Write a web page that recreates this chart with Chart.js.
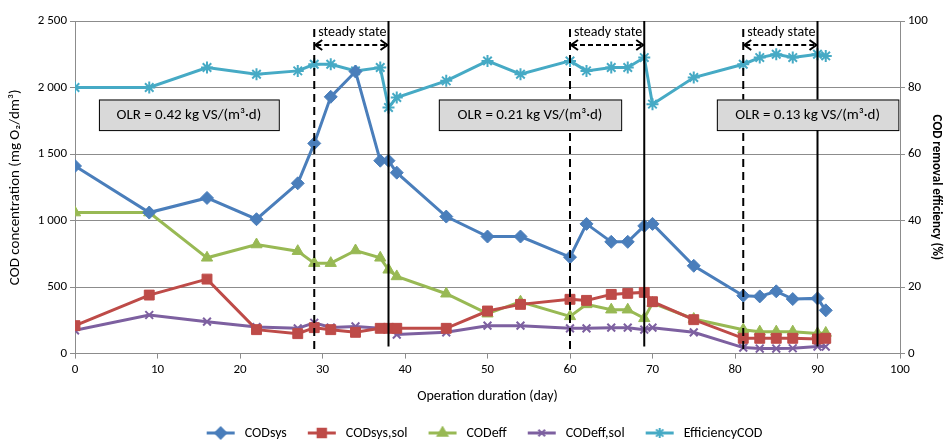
<!DOCTYPE html>
<html>
<head>
<meta charset="utf-8">
<script src="https://cdn.jsdelivr.net/npm/chart.js@4.4.1/dist/chart.umd.min.js"></script>
<style>
  body { margin: 0; background: #fff; }
  #wrap { width: 946px; height: 440px; }
</style>
</head>
<body>
<div id="wrap"><canvas id="chartCOD"></canvas></div>
<script>
// datos
const days = [0, 9, 16, 22, 27, 29, 31, 34, 37, 38, 39, 45, 50, 54, 60, 62, 65, 67, 69, 70, 75, 81, 83, 85, 87, 90, 91];
const codSys = [1410, 1060, 1170, 1010, 1280, 1580, 1930, 2120, 1450, 1450, 1360, 1030, 880, 880, 725, 975, 840, 840, 960, 975, 660, 435, 430, 468, 410, 415, 325];
const codSysSol = [210, 440, 560, 180, 150, 195, 180, 160, 190, 190, 190, 190, 320, 370, 408, 400, 445, 453, 460, 390, 255, 115, 115, 115, 115, 110, 115];
const codEff = [1060, 1060, 720, 820, 770, 680, 680, 775, 720, 630, 580, 450, 300, 390, 280, 370, 330, 330, 265, 380, 260, 180, 165, 165, 165, 152, 155];
const codEffSol = [175, 290, 240, 200, 190, 232, 196, 204, 190, 190, 143, 160, 210, 210, 190, 190, 195, 195, 180, 195, 160, 45, 38, 38, 40, 53, 53];
const efficiency = [80, 80, 86, 84, 85, 87, 87, 85, 86, 74, 77, 82, 88, 84, 88, 85, 86, 86, 89, 75, 83, 87, 89, 90, 89, 90, 89.5];

const seriesNames = ['CODsys', 'CODsys,sol', 'CODeff', 'CODeff,sol', 'EfficiencyCOD'];
const steadyStates = [[29, 38], [60, 69], [81, 90]];
const olrLabels = ['OLR = 0.42 kg VS/(m³·d)', 'OLR = 0.21 kg VS/(m³·d)', 'OLR = 0.13 kg VS/(m³·d)'];

const FONT = 'Carlito, Lato, "Liberation Sans", sans-serif';
const colors = ['#4a7ebb', '#be4b48', '#98b954', '#7d60a0', '#46aac5'];
const markers = [
  { pointStyle: 'rectRot', radius: 6.5 },
  { pointStyle: 'rect', radius: 7 },
  { pointStyle: 'triangle', radius: 6.5 },
  { pointStyle: 'crossRot', radius: 5.5 },
  { pointStyle: 'star', radius: 6 }
];

const toXY = vals => days.map((d, i) => ({ x: d, y: vals[i] }));

// icono de leyenda: linea + marcador (margen a la izquierda para separar items)
function legendIcon(i) {
  const c = document.createElement('canvas');
  c.width = 50; c.height = 14;
  const ctx = c.getContext('2d');
  ctx.strokeStyle = colors[i];
  ctx.fillStyle = colors[i];
  ctx.lineWidth = 3;
  ctx.beginPath(); ctx.moveTo(19, 7); ctx.lineTo(47, 7); ctx.stroke();
  ctx.lineWidth = 2;
  Chart.helpers.drawPoint(ctx, { pointStyle: markers[i].pointStyle, radius: markers[i].radius * 0.85, borderWidth: 2, rotation: 0 }, 33, 7);
  return c;
}

function makeDataset(i, vals, axis) {
  return {
    label: seriesNames[i],
    data: toXY(vals),
    yAxisID: axis,
    borderColor: colors[i],
    backgroundColor: colors[i],
    borderWidth: 3,
    pointStyle: markers[i].pointStyle,
    pointRadius: markers[i].radius,
    pointBorderWidth: (i >= 3) ? 2 : 1,
    pointBorderColor: colors[i],
    pointBackgroundColor: colors[i],
    tension: 0
  };
}

// lineas de estado estacionario y cajas OLR
const annotations = {
  id: 'annotations',
  afterDatasetsDraw(chart) {
    const ctx = chart.ctx;
    const x = chart.scales.x, y = chart.scales.y;
    const top = chart.chartArea.top, bottom = chart.chartArea.bottom;
    ctx.save();
    steadyStates.forEach(([a, b]) => {
      const xa = x.getPixelForValue(a), xb = x.getPixelForValue(b);
      // discontinua
      ctx.strokeStyle = '#000';
      ctx.lineWidth = 2;
      ctx.setLineDash([8, 5]);
      ctx.beginPath(); ctx.moveTo(xa, top + 8); ctx.lineTo(xa, bottom - 2); ctx.stroke();
      // continua
      ctx.setLineDash([]);
      ctx.beginPath(); ctx.moveTo(xb, top); ctx.lineTo(xb, bottom - 7); ctx.stroke();
      // flecha doble
      const ya = top + 24;
      ctx.setLineDash([5, 3]);
      ctx.beginPath(); ctx.moveTo(xa + 2, ya); ctx.lineTo(xb - 2, ya); ctx.stroke();
      ctx.setLineDash([]);
      ctx.beginPath();
      ctx.moveTo(xa + 8, ya - 5); ctx.lineTo(xa + 1, ya); ctx.lineTo(xa + 8, ya + 5);
      ctx.moveTo(xb - 8, ya - 5); ctx.lineTo(xb - 1, ya); ctx.lineTo(xb - 8, ya + 5);
      ctx.stroke();
      ctx.fillStyle = '#000';
      ctx.font = '14px ' + FONT;
      ctx.textAlign = 'center';
      ctx.textBaseline = 'middle';
      ctx.fillText('steady state', (xa + xb) / 2 + 1, top + 11);
    });
    const boxes = [[2.9, 24.7], [44.1, 66.2], [77.8, 99.8]];
    boxes.forEach(([a, b], i) => {
      const x0 = x.getPixelForValue(a), x1 = x.getPixelForValue(b);
      const y0 = y.getPixelForValue(1910), y1 = y.getPixelForValue(1680);
      ctx.fillStyle = '#d9d9d9';
      ctx.fillRect(x0, y0, x1 - x0, y1 - y0);
      ctx.strokeStyle = '#000';
      ctx.lineWidth = 1;
      ctx.strokeRect(x0 + 0.5, y0 + 0.5, x1 - x0, y1 - y0);
      ctx.fillStyle = '#000';
      ctx.font = '15px ' + FONT;
      ctx.textAlign = 'center';
      ctx.textBaseline = 'middle';
      ctx.fillText(olrLabels[i], (x0 + x1) / 2, (y0 + y1) / 2);
    });
    ctx.restore();
  }
};

const chartCOD = document.getElementById('chartCOD');

new Chart(chartCOD, {
  type: 'line',
  data: {
    datasets: [
      makeDataset(0, codSys, 'y'),
      makeDataset(1, codSysSol, 'y'),
      makeDataset(2, codEff, 'y'),
      makeDataset(3, codEffSol, 'y'),
      makeDataset(4, efficiency, 'y1')
    ]
  },
  options: {
    responsive: true,
    maintainAspectRatio: false,
    animation: false,
    layout: { padding: { top: 21, left: 4, right: 0, bottom: -10 } },
    font: { family: FONT },
    plugins: {
      tooltip: { enabled: false },
      legend: {
        position: 'bottom',
        labels: {
          usePointStyle: true,
          pointStyleWidth: 50,
          padding: 2,
          color: '#000',
          font: { size: 14, family: FONT },
          generateLabels(chart) {
            return chart.data.datasets.map((ds, i) => ({
              text: ds.label,
              pointStyle: legendIcon(i),
              fillStyle: colors[i],
              strokeStyle: colors[i],
              lineWidth: 0,
              hidden: false,
              datasetIndex: i
            }));
          }
        }
      }
    },
    scales: {
      x: {
        type: 'linear',
        min: 0,
        max: 100,
        ticks: { stepSize: 10, color: '#000', font: { size: 13, family: FONT } },
        grid: { drawOnChartArea: false, color: '#8c8c8c', tickLength: 5 },
        border: { color: '#8c8c8c' },
        title: { display: true, text: 'Operation duration (day)', color: '#000', font: { size: 14, family: FONT }, padding: { top: 8, bottom: 19 } }
      },
      y: {
        position: 'left',
        min: 0,
        max: 2500,
        ticks: {
          stepSize: 500,
          color: '#000',
          font: { size: 13, family: FONT },
          callback: v => String(v).replace(/\B(?=(\d{3})+(?!\d))/g, ' ')
        },
        grid: { color: '#8c8c8c', tickLength: 5 },
        border: { color: '#8c8c8c' },
        title: { display: true, text: 'COD concentration (mg O₂/dm³)', color: '#000', font: { size: 15, family: FONT }, padding: 2 },
        afterFit(scale) { scale.width = 71; }
      },
      y1: {
        position: 'right',
        min: 0,
        max: 100,
        ticks: { stepSize: 20, color: '#000', font: { size: 13, family: FONT } },
        grid: { drawOnChartArea: false, color: '#8c8c8c', tickLength: 5 },
        border: { color: '#8c8c8c' },
        title: { display: true, text: 'COD removal efficiency (%)', color: '#000', font: { size: 13, weight: 'bold', family: FONT }, padding: 2 },
        afterFit(scale) { scale.width = 46; }
      }
    }
  },
  plugins: [annotations]
});
</script>
</body>
</html>
